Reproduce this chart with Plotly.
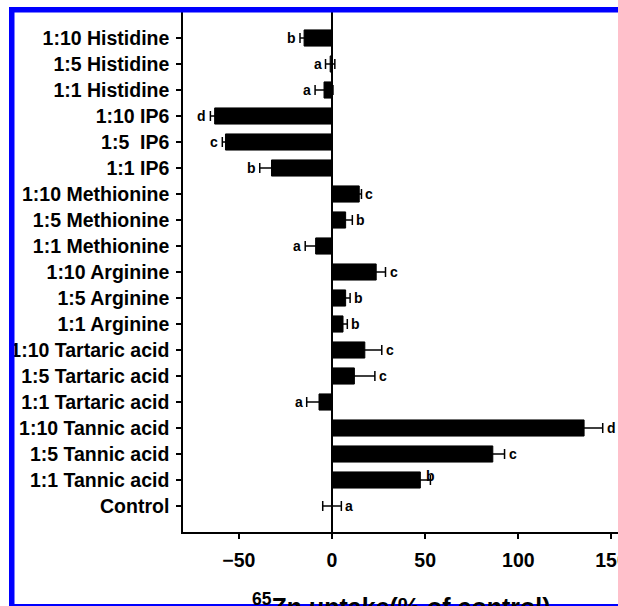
import plotly.graph_objects as go

# Categories listed bottom-to-top (as they appear from the x axis upwards)
categories = [
    "Control",
    "1:1 Tannic acid", "1:5 Tannic acid", "1:10 Tannic acid",
    "1:1 Tartaric acid", "1:5 Tartaric acid", "1:10 Tartaric acid",
    "1:1 Arginine", "1:5 Arginine", "1:10 Arginine",
    "1:1 Methionine", "1:5 Methionine", "1:10 Methionine",
    "1:1 IP6", "1:5\u00a0\u00a0IP6", "1:10 IP6",
    "1:1 Histidine", "1:5 Histidine", "1:10 Histidine",
]
uptake = [
    0.0,
    47.4, 86.3, 135.3,
    -7.0, 12.0, 17.6,
    5.9, 7.3, 23.7,
    -8.8, 7.3, 14.6,
    -32.5, -57.2, -63.0,
    -4.3, -1.0, -15.0,
]
errors = [
    5.0,
    5.4, 6.3, 10.0,
    6.6, 11.0, 9.1,
    2.3, 2.4, 5.0,
    5.6, 3.6, 1.2,
    6.3, 1.7, 2.3,
    4.8, 2.5, 2.2,
]
letters = [
    "a",
    "b", "c", "d",
    "a", "c", "c",
    "b", "b", "c",
    "a", "b", "c",
    "b", "c", "d",
    "a", "a", "b",
]
x_ticks = [-50, 0, 50, 100, 150]

FONT = "Liberation Sans, Arial, Helvetica, sans-serif"
BLUE = "#0000ff"

fig = go.Figure()
fig.add_trace(go.Bar(
    x=uptake, y=categories, orientation="h",
    width=0.62,
    marker=dict(color="black", line=dict(color="black", width=1)),
    error_x=dict(type="data", array=errors, symmetric=True,
                 color="black", thickness=1.5, width=5),
    showlegend=False,
))

annotations = []
for cat, v, e, lab in zip(categories, uptake, errors, letters):
    if v >= 0:
        ax, anchor, xs, ys = v + e, "left", 2, 0
        if cat == "1:1 Tannic acid":
            xs, ys = -6, 4
    else:
        ax, anchor, xs, ys = v - e, "right", -2, 0
    annotations.append(dict(
        x=ax, y=cat, xref="x", yref="y", text=lab, showarrow=False,
        xanchor=anchor, yanchor="middle", xshift=xs, yshift=ys,
        font=dict(family=FONT, size=14, color="black", weight="bold"),
    ))

annotations.append(dict(
    x=0.503, y=-0.106, xref="paper", yref="paper", xanchor="center", yanchor="top",
    text="<sup>65</sup>Zn uptake(% of control)", showarrow=False,
    font=dict(family=FONT, size=25, color="black", weight="bold"),
))

shapes = [
    # blue page-frame edges
    dict(type="rect", xref="paper", yref="paper", layer="above",
         x0=(9 - 183) / 435, x1=(620 - 183) / 435,
         y0=(532 - 7) / 520, y1=(532 - 12.5) / 520,
         fillcolor=BLUE, line=dict(width=0)),
    dict(type="rect", xref="paper", yref="paper", layer="above",
         x0=(9 - 183) / 435, x1=(14.5 - 183) / 435,
         y0=(532 - 7) / 520, y1=(532 - 608) / 520,
         fillcolor=BLUE, line=dict(width=0)),
    dict(type="rect", xref="paper", yref="paper", layer="above",
         x0=(9 - 183) / 435, x1=(620 - 183) / 435,
         y0=(532 - 604) / 520, y1=(532 - 608) / 520,
         fillcolor=BLUE, line=dict(width=0)),
]

fig.update_layout(
    width=618, height=606,
    margin=dict(l=183, r=0, t=12, b=74),
    paper_bgcolor="white", plot_bgcolor="white",
    font=dict(family=FONT, color="black", weight="bold"),
    annotations=annotations,
    shapes=shapes,
)
fig.update_xaxes(
    range=[-80, 153.5], tickmode="array", tickvals=x_ticks,
    ticks="outside", ticklen=5, tickwidth=1.5, tickcolor="black",
    showline=True, linecolor="black", linewidth=1.5,
    showgrid=False, zeroline=True, zerolinecolor="black", zerolinewidth=1.5,
    tickfont=dict(family=FONT, size=19.5, color="black", weight="bold"),
    ticklabeloverflow="allow", ticklabelstandoff=5,
    automargin=False,
)
fig.update_yaxes(
    type="category", categoryorder="array", categoryarray=categories,
    range=[-1, 19],
    ticks="outside", ticklen=5, tickwidth=1.5, tickcolor="black",
    showline=True, linecolor="black", linewidth=1.5,
    showgrid=False,
    tickfont=dict(family=FONT, size=19.5, color="black", weight="bold"),
    ticklabeloverflow="allow", ticklabelstandoff=3,
    automargin=False,
)

fig.write_html("out.html")
